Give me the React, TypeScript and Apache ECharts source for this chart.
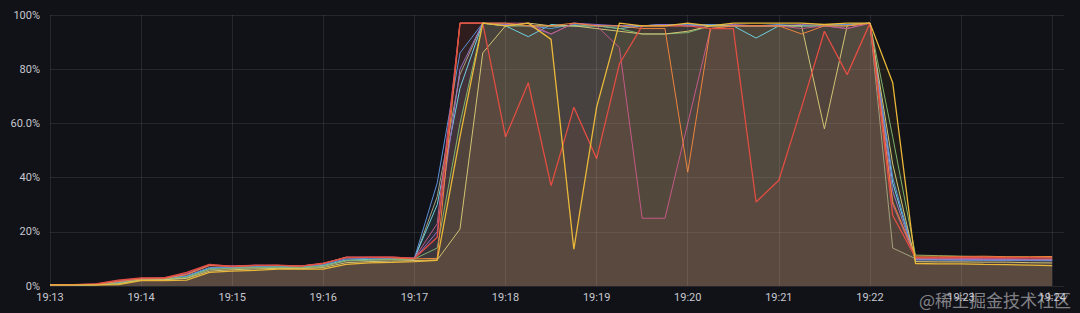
import React, { useEffect, useRef } from "react";
import * as echarts from "echarts";

// tick labels for the x axis (one per minute, starting 19:13)
const MINUTE_TICKS = ["19:13", "19:14", "19:15", "19:16", "19:17", "19:18", "19:19", "19:20", "19:21", "19:22", "19:23", "19:24"];
// samples are every 15 s (0.25 min) from 19:13:00
const SAMPLE_STEP_MIN = 0.25;
const Y_TICKS = [0, 20, 40, 60, 80, 100];

const red = [0.5, 0.5, 0.8, 2.2, 3.0, 3.0, 5.0, 8.0, 7.2, 7.6, 7.7, 7.3, 8.4, 10.5, 10.6, 10.6, 10.2,
  18, 97, 97, 55, 75, 37, 66, 47, 82, 96, 96, 96, 95, 95, 31, 39, 66, 94, 78, 97, 26,
  10.5, 10.5, 10.6, 10.6, 10.5, 10.5, 10.4];
const pink = [0.5, 0.5, 0.7, 2.0, 2.8, 3.0, 4.6, 7.8, 7.4, 7.7, 7.6, 7.4, 8.2, 10.7, 10.7, 10.7, 10.3,
  23, 97, 97, 97, 97, 93, 97, 96, 88, 25, 25, 60, 95, 96, 96, 96, 95, 96, 95, 97, 30,
  10.3, 10.2, 10.2, 10.1, 10.1, 10.0, 10.0];
const yellow = [0.4, 0.4, 0.4, 0.5, 2.0, 2.0, 2.2, 5.0, 5.5, 5.8, 6.2, 6.2, 6.2, 8.0, 8.5, 8.7, 9.0,
  9.5, 55, 97, 96, 97, 91, 13.6, 66, 97, 96, 96, 97, 96, 97, 97, 97, 97, 96.5, 97, 97, 75,
  8.3, 8.2, 8.2, 8.0, 7.9, 7.7, 7.5];
const khaki = [0.4, 0.4, 0.4, 0.8, 2.2, 2.3, 2.8, 5.5, 6.0, 6.3, 6.5, 6.4, 6.8, 8.6, 9.0, 9.2, 9.4,
  9.6, 21, 86, 96, 97, 96, 96, 95, 94, 93, 93, 94, 96, 96, 96, 96, 96, 58, 96, 97, 45,
  9.0, 8.9, 8.9, 8.8, 8.8, 8.6, 8.5];
const orange = [0.5, 0.5, 0.6, 1.6, 2.6, 2.7, 4.2, 7.5, 7.2, 7.5, 7.6, 7.3, 8.3, 10.6, 10.5, 10.4, 10.0,
  10.2, 97, 97, 97, 96, 96, 97, 96, 96, 95, 95, 42, 95, 96, 96, 96, 93, 96, 96, 97, 31,
  11.0, 11.0, 10.9, 11.0, 10.8, 10.8, 10.9];
const green = [0.4, 0.4, 0.5, 1.0, 2.4, 2.5, 3.2, 6.2, 6.6, 6.8, 7.0, 6.8, 7.4, 9.4, 9.6, 9.8, 10.0,
  14, 60, 97, 96, 96, 96, 96, 96, 95, 93, 93, 93.5, 96, 96, 96, 96, 96, 96, 96, 97, 55,
  11.4, 11.2, 11.0, 10.8, 10.7, 10.6, 10.5];
const teal = [0.4, 0.4, 0.5, 1.2, 2.5, 2.6, 3.5, 6.5, 6.8, 7.0, 7.1, 7.0, 7.6, 9.6, 9.8, 10.0, 10.2,
  30, 73, 97, 96, 92, 96.5, 96, 96, 95, 96, 96.5, 96, 96.5, 96, 91.5, 96, 96, 96, 96.5, 97, 38,
  9.8, 9.7, 9.7, 9.6, 9.6, 9.5, 9.5];
const blue = [0.4, 0.4, 0.5, 1.4, 2.6, 2.7, 3.8, 6.8, 6.9, 7.2, 7.3, 7.1, 7.9, 10.0, 10.2, 10.2, 10.3,
  38, 86, 97, 96.5, 96, 95, 96.5, 96, 96, 96, 96.5, 96.5, 96.5, 96, 96, 96.5, 96, 96.5, 96.5, 97, 40,
  9.6, 9.6, 9.5, 9.5, 9.4, 9.4, 9.3];
const purple = [0.5, 0.5, 0.6, 1.8, 2.8, 2.9, 4.4, 7.6, 7.3, 7.6, 7.6, 7.3, 8.3, 10.4, 10.5, 10.5, 10.1,
  20, 80, 97, 96.5, 96, 93, 97, 96.5, 96, 96, 96.5, 96, 96, 96.5, 96, 96, 96.5, 96, 95, 97, 35,
  9.9, 9.9, 9.8, 9.8, 9.7, 9.7, 9.6];
const grey = [0.4, 0.4, 0.5, 1.1, 2.3, 2.4, 3.0, 6.0, 6.4, 6.7, 6.9, 6.7, 7.2, 9.2, 9.5, 9.7, 9.8,
  33, 78, 97, 96, 96, 96, 96, 96, 96, 96, 96, 96, 96, 96, 96, 96, 96, 96, 96, 97, 14,
  10.1, 10.0, 10.0, 9.9, 9.9, 9.8, 9.8];

const SERIES = [
  { name: "grey", color: "#a3a07e", fill: 0.065, data: grey },
  { name: "teal", color: "#6ED0E0", fill: 0.055, data: teal },
  { name: "blue", color: "#5b8fd6", fill: 0.05, data: blue },
  { name: "purple", color: "#9a6fc4", fill: 0.05, data: purple },
  { name: "green", color: "#7EB26D", fill: 0.065, data: green },
  { name: "khaki", color: "#d2c474", fill: 0.065, data: khaki },
  { name: "pink", color: "#c45a86", fill: 0.05, data: pink },
  { name: "orange", color: "#EF843C", fill: 0.055, data: orange },
  { name: "red", color: "#E24D42", fill: 0.05, data: red },
  { name: "yellow", color: "#EAB839", fill: 0.065, data: yellow },
];

const WATERMARK = "@稀土掘金技术社区";

export default function App() {
  const ref = useRef<HTMLDivElement>(null);
  useEffect(() => {
    if (!ref.current) return;
    const chart = echarts.init(ref.current, null, { renderer: "svg" });
    const gridColor = "rgba(255,255,255,0.09)";
    const series: any[] = SERIES.map((s, si) => ({
      type: "line",
      name: s.name,
      data: s.data.map((v, i) => [i * SAMPLE_STEP_MIN, v]),
      symbol: "none",
      lineStyle: { color: s.color, width: s.name === "yellow" || s.name === "red" ? 1.3 : 1 },
      itemStyle: { color: s.color },
      areaStyle: { color: s.color, opacity: s.fill },
      silent: true,
      z: 2,
      ...(si === 0
        ? {
            markLine: {
              silent: true,
              symbol: "none",
              label: { show: false },
              lineStyle: { color: gridColor, type: "solid", width: 1 },
              data: MINUTE_TICKS.map((_, k) => ({ xAxis: k })),
            },
          }
        : {}),
    }));
    chart.setOption({
      animation: false,
      backgroundColor: "#111217",
      grid: { left: 50, right: 16, top: 15, bottom: 27 },
      xAxis: {
        type: "value",
        min: 0,
        max: 11.13,
        interval: 1,
        axisLine: { show: false },
        axisTick: { show: false },
        splitLine: { show: false },
        axisLabel: {
          color: "#c6c8cf",
          fontFamily: "Roboto",
          fontSize: 11,
          margin: 6,
          showMaxLabel: false,
          formatter: (v: number) => MINUTE_TICKS[Math.round(v)] ?? "",
        },
      },
      yAxis: {
        type: "value",
        min: 0,
        max: 100,
        interval: 20,
        axisLine: { show: false },
        axisTick: { show: false },
        splitLine: { lineStyle: { color: gridColor, width: 1 } },
        axisLabel: {
          color: "#c6c8cf",
          fontFamily: "Roboto",
          fontSize: 11,
          margin: 10,
          formatter: (v: number) => (Y_TICKS.includes(v) ? (v === 60 ? "60.0%" : v + "%") : ""),
        },
      },
      series,
      graphic: [
        {
          type: "text",
          right: 9,
          bottom: 5,
          z: 100,
          style: {
            text: WATERMARK,
            fill: "rgba(225,225,230,0.55)",
            font: '17px "Noto Sans CJK SC"',
          },
        },
      ],
    });
    return () => chart.dispose();
  }, []);
  return (
    <div
      ref={ref}
      style={{ position: "fixed", left: 0, top: 0, width: 1080, height: 313, background: "#111217" }}
    />
  );
}
